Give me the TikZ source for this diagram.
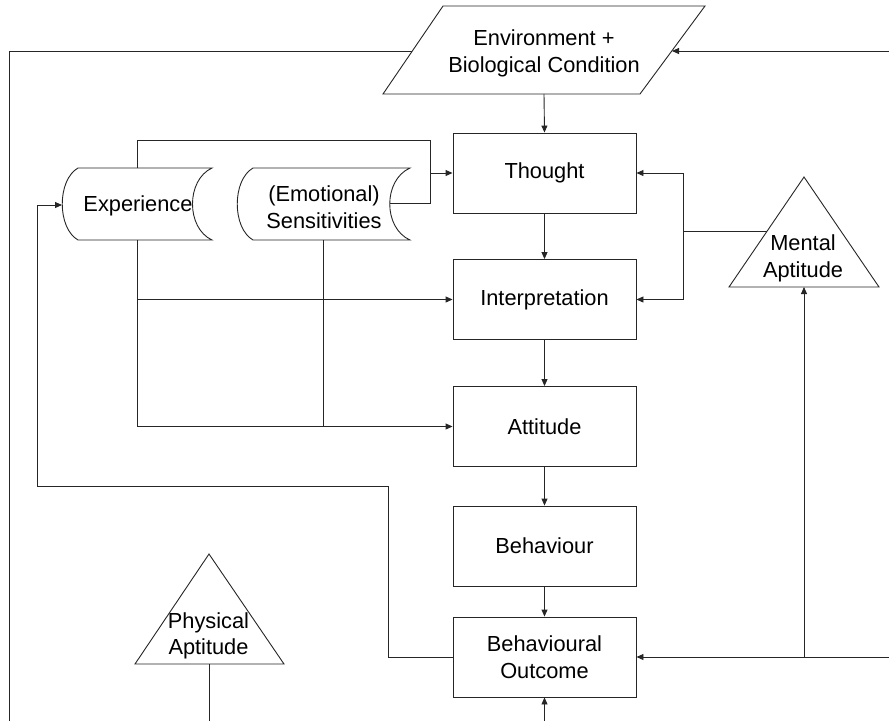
\documentclass[tikz,border=0pt]{standalone}
\usepackage{fontspec}
\setmainfont{Liberation Sans}
\usetikzlibrary{arrows.meta}
\begin{document}
\begin{tikzpicture}[x=1pt,y=-1pt,
  line width=0.9pt, draw=black!85,
  txt/.style={align=center, inner sep=0pt, font=\fontsize{21.8}{26.5}\selectfont},
  stepbox/.style={draw, rectangle, minimum width=183pt, minimum height=80pt,
    inner sep=0pt, align=center, font=\fontsize{21.8}{26.5}\selectfont},
  outline/.style={draw=black!85, fill=white},
  arr/.style={-{Triangle[length=7pt,width=6pt]}},
  link/.style={draw=black!85}]
\useasboundingbox (0,0) rectangle (889,721);

% input parallelogram
\coordinate (envNW) at (443,6);
\coordinate (envNE) at (705,6);
\coordinate (envSE) at (640,94);
\coordinate (envSW) at (383,94);
\draw[outline] (envNW) -- (envNE) -- (envSE) -- (envSW) -- cycle;
\node[txt] (env) at (544,53.5) {Environment +\\Biological Condition};
\coordinate (envS) at (544,94);
\coordinate (envL) at (412,51);
\coordinate (envR) at (672,51);

% main chain
\node[stepbox] (thought) at (544.5,173) {Thought};
\node[stepbox] (interp)  at (544.5,299.5) {Interpretation};
\node[stepbox] (attit)   at (544.5,426.5) {Attitude};
\node[stepbox] (behav)   at (544.5,546) {Behaviour};
\node[stepbox] (bout)    at (544.5,657) {Behavioural\\Outcome};

% stored-data shapes
\draw[outline] (78,168) -- (212,168) .. controls (186,180) and (186,228) .. (212,240)
  -- (78,240) .. controls (57,228) and (57,180) .. (78,168) -- cycle;
\node[txt] (exper) at (138,206) {Experience};
\draw[outline] (253,168) -- (410,168) .. controls (383,180) and (383,228) .. (410,240)
  -- (253,240) .. controls (232,228) and (232,180) .. (253,168) -- cycle;
\node[txt] (sens) at (324,207) {(Emotional)\\Sensitivities};
\coordinate (experN) at (137,168);
\coordinate (experS) at (137,240);
\coordinate (experW) at (62,205);
\coordinate (sensS) at (323,240);
\coordinate (sensE) at (390,203);

% triangles
\draw[outline] (804,177) -- (879,287) -- (729,287) -- cycle;
\node[txt] (mental) at (803,258.5) {Mental\\Aptitude};
\coordinate (mentalW) at (767,231);
\coordinate (mentalS) at (804,287);
\draw[outline] (209,554) -- (284,664) -- (135,664) -- cycle;
\node[txt] (phys) at (208.5,636) {Physical\\Aptitude};
\coordinate (physS) at (209,664);

% junction points
\coordinate (busTop) at (430,140);
\coordinate (busSens) at (430,203);
\coordinate (mentJ) at (683,231);
\coordinate (fbA) at (388,657);
\coordinate (fbB) at (388,486);
\coordinate (fbC) at (37,486);
\coordinate (rightT) at (889,51);
\coordinate (rightB) at (889,657);
\coordinate (leftB) at (9,721);
\coordinate (physB) at (209,721);
\coordinate (boB) at (544.5,721);

% connectors
\draw[arr] (envS) -- (thought.north);
\draw[arr] (thought) -- (interp);
\draw[arr] (interp) -- (attit);
\draw[arr] (attit) -- (behav);
\draw[arr] (behav) -- (bout);
\draw[arr] (boB) -- (bout.south);

\draw (envL) -| (leftB);
\draw[arr] (rightT) -- (envR);

\draw (experN) |- (busTop) -- (busSens) -- (sensE);
\draw[arr] (busTop |- thought.west) -- (thought.west);
\draw (experS) -- (experS |- attit.west);
\draw[arr] (experS |- interp.west) -- (interp.west);
\draw[arr] (experS |- attit.west) -- (attit.west);
\draw (sensS) -- (sensS |- attit.west);

\draw (mentalW) -- (mentJ);
\draw[arr] (mentJ) |- (thought.east);
\draw[arr] (mentJ) |- (interp.east);

\draw[arr] (rightB) -- (bout.east);
\draw[arr] (mentalS |- rightB) -- (mentalS);

\draw[arr] (bout.west) -- (fbA) -- (fbB) -- (fbC) |- (experW);
\draw (physS) -- (physB);
\end{tikzpicture}
\end{document}
